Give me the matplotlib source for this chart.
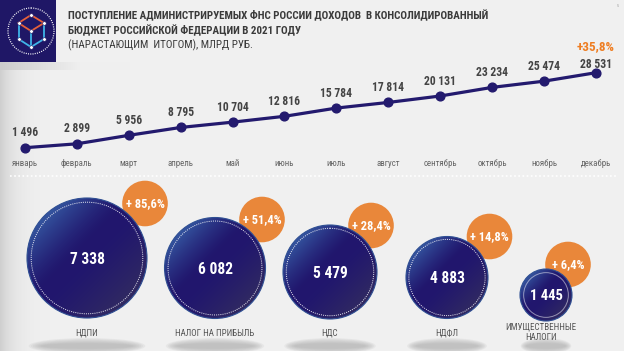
import numpy as np
import matplotlib
matplotlib.use("Agg")
import matplotlib.pyplot as plt
from matplotlib.patches import Circle, Ellipse, Rectangle
from matplotlib import transforms

# ---------------- data ----------------
months = ["январь", "февраль", "март", "апрель", "май", "июнь",
          "июль", "август", "сентябрь", "октябрь", "ноябрь", "декабрь"]
cumulative = [1496, 2899, 5956, 8795, 10704, 12816,
              15784, 17814, 20131, 23234, 25474, 28531]
total_growth = "+35,8%"

tax_names = ["НДПИ", "НАЛОГ НА ПРИБЫЛЬ", "НДС", "НДФЛ", "ИМУЩЕСТВЕННЫЕ\nНАЛОГИ"]
tax_values = [7338, 6082, 5479, 4883, 1445]
tax_growth = ["+ 85,6%", "+ 51,4%", "+ 28,4%", "+ 14,8%", "+ 6,4%"]

title_lines = ["ПОСТУПЛЕНИЕ АДМИНИСТРИРУЕМЫХ ФНС РОССИИ ДОХОДОВ  В КОНСОЛИДИРОВАННЫЙ",
               "БЮДЖЕТ РОССИЙСКОЙ ФЕДЕРАЦИИ В 2021 ГОДУ"]
subtitle = "(НАРАСТАЮЩИМ  ИТОГОМ), МЛРД РУБ."

# ---------------- layout (pixels) ----------------
W, H = 624, 351
bub_cx = [87, 215, 330, 447, 546]
bub_cy = [258, 268, 272, 277.5, 295]
bub_r = [60, 50.5, 47, 41, 26]
org_cx = [145, 262, 371, 489.5, 568]
org_cy = [203.5, 219.5, 225.5, 236.5, 264.5]
org_r = 22.8
label_off = [15, 15, 15, 15, 15, 15, 15, 15, 15, 15, 15, 8]

FN = ["Roboto Condensed", "Barlow Semi Condensed", "DejaVu Sans"]
NAVY = "#231a6e"
ORANGE = "#e9873a"
GRAY = "#444444"

fig = plt.figure(figsize=(W / 100, H / 100), dpi=100)

bg = fig.add_axes([0, 0, 1, 1])
bg.set_xlim(0, W)
bg.set_ylim(H, 0)
bg.axis("off")

gx = np.linspace(0, W, 400)
shade = 0.945 - 0.13 * np.exp(-gx / 14.0)
img = np.tile(shade, (60, 1))
bg.imshow(np.dstack([img, img, img]), extent=(0, W, H, 0), aspect="auto", zorder=0)
band = np.tile(0.80 + 0.14 * np.clip(np.linspace(0, 1, 200) * 1.6, 0, 1), (8, 1))
bg.imshow(np.dstack([band, band, band]), extent=(0, 130, 70, 62), aspect="auto", zorder=1)

# logo
bg.add_patch(Rectangle((0, 0), 56, 62, color="#1f1766", zorder=2, lw=0))
bg.add_patch(Circle((31, 31), 23, fill=False, ec="white", lw=0.9,
                    ls=(0, (0.8, 1.0)), zorder=3))
top, ul, ur, cen = (31, 15), (18.5, 23), (44, 23), (31, 31)
ll, lr, bot = (18.5, 39), (44, 39), (31, 47)
for a, b in [(top, ul), (top, ur), (ul, cen), (ur, cen)]:
    bg.plot([a[0], b[0]], [a[1], b[1]], color="#e6603a", lw=1.3, zorder=3)
for a, b in [(ul, ll), (ll, bot), (bot, lr), (lr, ur), (cen, bot)]:
    bg.plot([a[0], b[0]], [a[1], b[1]], color="#3fb4e8", lw=1.3, zorder=3)
for p in [top, ul, ur, cen, ll, lr, bot]:
    bg.plot(p[0], p[1], "o", ms=2.6, mfc="white", mec="#1f1766", mew=0.4, zorder=4)

# title
bg.text(68, 16, title_lines[0], family=FN, fontsize=7.9, fontweight="bold",
        color="#3a3a3a", va="center", ha="left")
bg.text(68, 31, title_lines[1], family=FN, fontsize=7.9, fontweight="bold",
        color="#3a3a3a", va="center", ha="left")
bg.text(68, 45.5, subtitle, family=FN, fontsize=7.9, color="#3a3a3a",
        va="center", ha="left")
bg.text(618, 6, "5", family=FN, fontsize=3, color="#999999", ha="center", va="center")

bg.plot([10, 616], [175.5, 175.5], color="white", lw=1.2, ls=(0, (1, 1.5)), zorder=2)

# ---------------- line chart ----------------
step = 51.9
x0 = 25.0
ax = fig.add_axes([(x0 - 0.5 * step) / W, 160 / H, 12 * step / W, 140 / H])
ax.patch.set_alpha(0)
ax.axis("off")
ax.set_xlim(-0.5, 11.5)
slope = 27035 / 75.0
ax.set_ylim(1496 + (160 - 203.3) * slope, 1496 + (300 - 203.3) * slope)
xs = np.arange(len(months))
ax.plot(xs, cumulative, color=NAVY, lw=2.3, marker="o", ms=6.3,
        mfc=NAVY, mec=NAVY, zorder=3, clip_on=False)
tr = transforms.blended_transform_factory(ax.transData, bg.transData)
for i, (m, v) in enumerate(zip(months, cumulative)):
    ax.annotate(f"{v:,}".replace(",", " "), (i, v), xytext=(0, label_off[i] * 0.72),
                textcoords="offset points", ha="center", va="center",
                family=FN, fontsize=8.4, fontweight="bold", color=GRAY)
    ax.text(i, 163.5, m, transform=tr, ha="center", va="center",
            family=FN, fontsize=6.4, color="#666666")
ax.text(11, 46.5, total_growth, transform=tr, ha="center", va="center",
        family=FN, fontsize=9.5, fontweight="bold", color="#ee7d22")

# ---------------- bubbles ----------------
n = 240
u = np.linspace(-1, 1, n)
X, Y = np.meshgrid(u, u)
s = (X + Y) / 2.0
blue = np.array([0.24, 0.45, 0.72])
navy = np.array([0.13, 0.09, 0.43])
dark = np.array([0.22, 0.20, 0.36])
t1 = np.clip((-s - 0.15) / 0.75, 0, 1)[..., None] ** 1.3
t2 = np.clip((s - 0.05) / 0.9, 0, 1)[..., None] ** 1.2
grad = navy * (1 - t1) + blue * t1
grad = grad * (1 - t2) + dark * t2

for i in range(len(tax_values)):
    cx, cy, r = bub_cx[i], bub_cy[i], bub_r[i]
    for k in range(7):
        bg.add_patch(Ellipse((cx, 346), 1.8 * r * (1.08 - 0.04 * k), 16 - 1.8 * k,
                             color="#a8a8a8", alpha=0.13, lw=0, zorder=2))
    bg.add_patch(Circle((org_cx[i], org_cy[i]), org_r, color=ORANGE, lw=0, zorder=3))
    bg.text(org_cx[i], org_cy[i], tax_growth[i], ha="center", va="center",
            family=FN, fontsize=9, fontweight="bold", color="white", zorder=7)
    clip = Circle((cx, cy), r, transform=bg.transData)
    im = bg.imshow(grad, extent=(cx - r, cx + r, cy + r, cy - r), zorder=4,
                   interpolation="bilinear")
    im.set_clip_path(clip)
    bg.add_patch(Circle((cx, cy), r, fill=False, ec="#2f4f93", lw=0.8, zorder=5))
    ring = 0.93 if r > 30 else 0.86
    bg.add_patch(Circle((cx, cy), r * ring, fill=False, ec="white", lw=0.7,
                        ls=(0, (1, 1.2)) if r > 30 else "-",
                        alpha=0.9 if r > 30 else 0.5, zorder=5))
    bg.text(cx, cy + 1, f"{tax_values[i]:,}".replace(",", " "), ha="center",
            va="center", family=FN, fontsize=11.2 if r > 30 else 10.5,
            fontweight="bold", color="white", zorder=7)
    if "\n" in tax_names[i]:
        bg.text(cx - 5, 332.5, tax_names[i], ha="center", va="center",
                family=FN, fontsize=6.5, color="#555555", linespacing=1.2, zorder=7)
    else:
        bg.text(cx, 333, tax_names[i], ha="center", va="center",
                family=FN, fontsize=6.5, color="#555555", zorder=7)

fig.savefig("out.png", dpi=100)
